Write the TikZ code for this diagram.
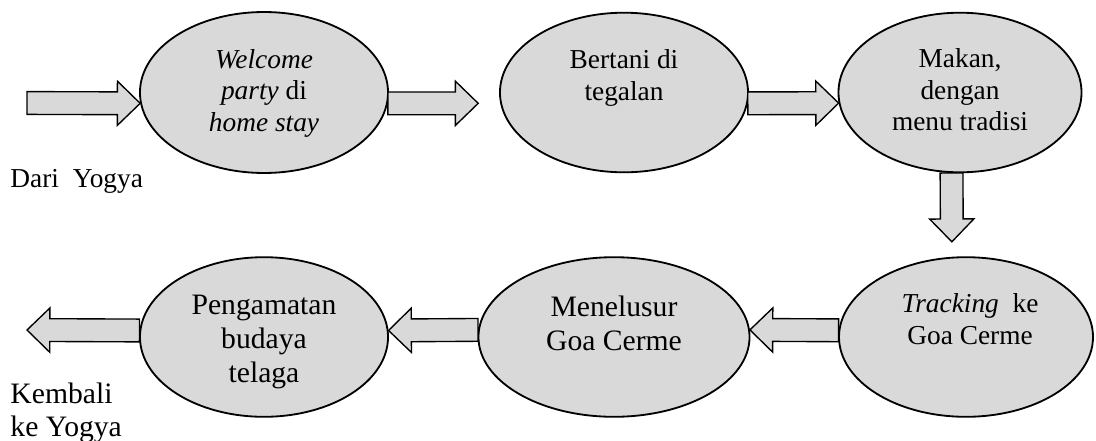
\documentclass[tikz,border=0pt]{standalone}
\usepackage{fontspec}
\setmainfont{Liberation Serif}
\usetikzlibrary{shapes.geometric, calc}
\definecolor{cGray}{RGB}{217,217,217}

\begin{document}
\begin{tikzpicture}[x=0.4386pt, y=-0.4386pt,
            st/.style={ellipse, draw=black, line width=0.8pt, fill=cGray, minimum width=108.8pt, minimum height=70pt, inner sep=0pt},
            tx/.style={align=center, inner sep=0pt, font=\fontsize{12}{13.8}\selectfont},
            big/.style={font=\fontsize{13}{14.9}\selectfont},
            fat/.style={draw=black, line width=0.6pt, fill=cGray, line join=miter,
                to path={($(\tikztostart)!5pt!90:(\tikztotarget)$)
                    -- ($($(\tikztotarget)!10pt!(\tikztostart)$)!5pt!90:(\tikztotarget)$)
                    -- ($($(\tikztotarget)!10pt!(\tikztostart)$)!9.7pt!90:(\tikztotarget)$)
                    -- (\tikztotarget)
                    -- ($($(\tikztotarget)!10pt!(\tikztostart)$)!9.7pt!-90:(\tikztotarget)$)
                    -- ($($(\tikztotarget)!10pt!(\tikztostart)$)!5pt!-90:(\tikztotarget)$)
                    -- ($(\tikztostart)!5pt!-90:(\tikztotarget)$) -- cycle}}]
            \useasboundingbox (0,0) rectangle (1096,441);
            \node[st, minimum height=70.6pt] (wel) at (264,92.5) {};
            \node[st] (bert) at (624,92.5) {};
            \node[st, minimum width=106.6pt] (mak) at (960,92.5) {};
            \node[st, minimum width=111.4pt] (trk) at (966,337) {};
            \node[st, minimum width=118.9pt] (mel) at (614,337) {};
            \node[st] (peng) at (264,337) {};
            \node[tx] (wel-t) at (264,93) {\textit{Welcome}\\\textit{party} di\\\textit{home stay}};
            \node[tx] (bert-t) at (624,78) {Bertani di\\tegalan};
            \node[tx] (mak-t) at (960,90) {Makan,\\dengan\\menu tradisi};
            \node[tx] (trk-t) at (970,319) {\textit{Tracking}\ \ ke\\Goa Cerme};
            \node[tx, big] (mel-t) at (614,323.5) {Menelusur\\Goa Cerme};
            \node[tx, big] (peng-t) at (264,342) {Pengamatan\\budaya\\telaga};
            \node[tx, anchor=base west] (from) at (10,187) {Dari\ \ Yogya};
            \node[tx, big, anchor=north west, align=left] (back) at (10,382) {Kembali\\ke Yogya};
            \coordinate (in) at (27,103);
            \coordinate (out) at (27,330);
            \draw[fat] (in) to (wel.185);
            \draw[fat] (wel.-5) to ($(bert.185)+(-22,0)$);
            \draw[fat] (bert.-5) to (mak.185);
            \draw[fat] (mak.264) to ($(trk.100)+(0,-15)$);
            \draw[fat] (trk.177) to (mel.3);
            \draw[fat] (mel.177) to (peng.3);
            \draw[fat] (peng.177) to (out);
\end{tikzpicture}
\end{document}
